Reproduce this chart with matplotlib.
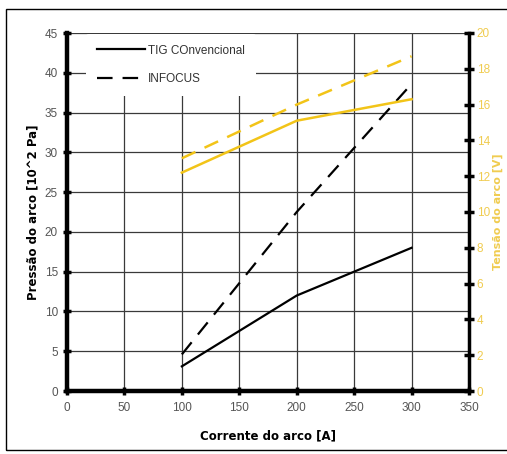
import matplotlib.pyplot as plt
import matplotlib.patches as mpatches

# arc current [A]
corrente = [100, 200, 300]

# arc pressure [10^2 Pa]
pressao_tig = [3.1, 12.0, 18.0]
pressao_infocus = [4.6, 22.5, 38.6]

# arc voltage [V]
tensao_tig = [12.2, 15.1, 16.3]
tensao_infocus = [13.0, 16.0, 18.7]

x_ticks = [0, 50, 100, 150, 200, 250, 300, 350]
y_ticks = [0, 5, 10, 15, 20, 25, 30, 35, 40, 45]
y2_ticks = [0, 2, 4, 6, 8, 10, 12, 14, 16, 18, 20]

yellow = '#f2c418'
yellow_txt = '#f0cc50'
tick_grey = '#555555'

plt.rcParams['font.family'] = ['Liberation Sans', 'DejaVu Sans']

fig = plt.figure(figsize=(5.07, 4.54), dpi=100)
ax = fig.add_axes([67 / 507, 63 / 454, 402 / 507, 358 / 454])
ax2 = ax.twinx()

l1, = ax.plot(corrente, pressao_tig, color='black', lw=1.6, label='TIG COnvencional', zorder=3)
l2, = ax.plot(corrente, pressao_infocus, color='black', lw=1.6, dashes=(7, 4.5), label='INFOCUS', zorder=3)
ax2.plot(corrente, tensao_tig, color=yellow, lw=1.8)
ax2.plot(corrente, tensao_infocus, color=yellow, lw=1.8, dashes=(6, 4))

ax.set_xlim(0, 350)
ax.set_ylim(0, 45)
ax2.set_ylim(0, 20)
ax.set_xticks(x_ticks)
ax.set_yticks(y_ticks)
ax2.set_yticks(y2_ticks)

ax.grid(True, color='#3a3a3a', lw=0.9)
ax.set_axisbelow(True)

ax.spines['top'].set_visible(False)
ax2.spines['top'].set_visible(False)
ax.spines['left'].set_linewidth(3.2)
ax.spines['bottom'].set_linewidth(3.2)
ax.spines['right'].set_visible(False)
ax2.spines['left'].set_visible(False)
ax2.spines['bottom'].set_visible(False)
ax2.spines['right'].set_linewidth(2.5)

ax.tick_params(axis='both', direction='inout', length=6, width=2.5, labelsize=8.5,
               colors='black', labelcolor=tick_grey)
ax.tick_params(axis='x', pad=5)
ax2.tick_params(axis='y', direction='inout', length=7, width=2.5, labelsize=8.5,
                colors='black', labelcolor=yellow_txt, pad=2)

ax.set_xlabel('Corrente do arco [A]', fontsize=8.5, fontweight='bold',
              family=['DejaVu Sans'], labelpad=11)
ax.set_ylabel('Pressão do arco [10^2 Pa]', fontsize=8.5, fontweight='bold',
              family=['DejaVu Sans'], labelpad=4)
ax2.set_ylabel('Tensão do arco [V]', fontsize=8, fontweight='bold',
               family=['DejaVu Sans'], color=yellow_txt, labelpad=2)

# ax2 sits on top so the yellow lines cover the grid; the legend lives there too
ax2.patch.set_visible(False)
ax.patch.set_facecolor('white')

leg = ax2.legend(handles=[l1, l2], loc='upper left', bbox_to_anchor=(0.042, 1.004),
                 frameon=True, fontsize=8.5, handlelength=4.1, handletextpad=0.25,
                 labelspacing=1.4, borderpad=0.9, borderaxespad=0.2)
leg.get_frame().set_facecolor('white')
leg.get_frame().set_edgecolor('none')
leg.get_frame().set_alpha(1)
for t in leg.get_texts():
    t.set_color('#333333')

fig.patches.append(mpatches.Rectangle((6 / 507, 4 / 454), 520 / 507, 441 / 454,
                                      transform=fig.transFigure, fill=False,
                                      edgecolor='black', lw=1))

fig.savefig('out.png', dpi=100)
